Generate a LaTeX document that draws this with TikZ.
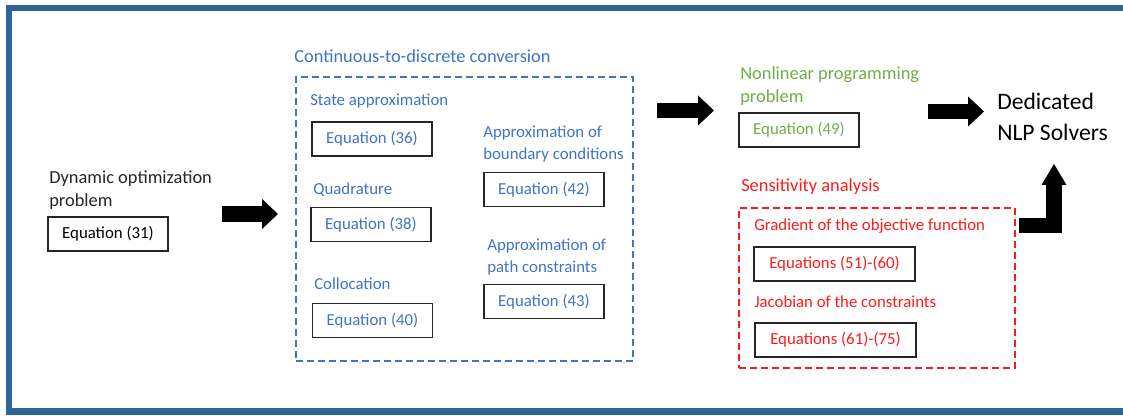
\documentclass[tikz,border=0pt]{standalone}
\usepackage{fontspec}
\setmainfont{Carlito}
\usetikzlibrary{arrows.meta}
\definecolor{frameblue}{HTML}{2E6599}
\definecolor{convblue}{HTML}{3F74C6}
\definecolor{nlpgreen}{HTML}{70AD47}
\definecolor{sensred}{HTML}{FF1A1A}
\tikzset{
    eqbox/.style={draw=black!85, line width=0.95pt, minimum width=90pt, minimum height=25.5pt, inner sep=0pt, font=\fontsize{12.6}{15}\selectfont},
    headlbl/.style={anchor=west, inner sep=0pt, align=left, font=\fontsize{13.8}{17.5}\selectfont},
    sublbl/.style={anchor=west, inner sep=0pt, align=left, font=\fontsize{12.6}{16.5}\selectfont},
    groupbox/.style={draw, line width=0.8pt, dash pattern=on 5.25pt off 3pt, inner sep=0pt},
    fatarrow/.style={line width=11.5pt, -{Triangle[length=12pt, width=22.5pt, line width=0pt]}}
}

\begin{document}
\begin{tikzpicture}[x=0.75pt, y=-0.75pt]
            \useasboundingbox (0,0) rectangle (1123,416);
            \draw[frameblue, line width=4.8pt] (9,8) rectangle (1140,411.5);
            
            % problem statement
            \node[headlbl, text=black!85] (dynlbl) at (49,190) {Dynamic optimization\\problem};
            \node[eqbox] (eq31) at (108,234) {Equation (31)};
            
            % continuous-to-discrete conversion
            \node[headlbl, text=convblue] (convlbl) at (294,56) {Continuous-to-discrete conversion};
            \node[groupbox, convblue, minimum width=252.75pt, minimum height=213pt] (conv) at (464.5,219) {};
            \node[sublbl, text=convblue] (statelbl) at (310,101) {State approximation};
            \node[eqbox, text=convblue] (eq36) at (372,139) {Equation (36)};
            \node[sublbl, text=convblue] (quadlbl) at (313,190) {Quadrature};
            \node[eqbox, text=convblue] (eq38) at (371,224.5) {Equation (38)};
            \node[sublbl, text=convblue] (colllbl) at (314,284) {Collocation};
            \node[eqbox, text=convblue] (eq40) at (372.5,320.5) {Equation (40)};
            \node[sublbl, text=convblue] (bndlbl) at (483,144) {Approximation of\\boundary conditions};
            \node[eqbox, text=convblue] (eq42) at (544,189.5) {Equation (42)};
            \node[sublbl, text=convblue] (pathlbl) at (487,257) {Approximation of\\path constraints};
            \node[eqbox, text=convblue] (eq43) at (544,301.5) {Equation (43)};
            
            % nonlinear programming problem
            \node[headlbl, text=nlpgreen] (nlplbl) at (740,86) {Nonlinear programming\\problem};
            \node[eqbox, text=nlpgreen] (eq49) at (799,130) {Equation (49)};
            
            % sensitivity analysis
            \node[headlbl, text=sensred] (senslbl) at (741,187) {Sensitivity analysis};
            \node[groupbox, sensred, minimum width=207pt, minimum height=120pt] (sens) at (877,288) {};
            \node[sublbl, text=sensred] (gradlbl) at (754,226) {Gradient of the objective function};
            \node[eqbox, text=sensred, minimum width=120.75pt] (eq51) at (834.5,264) {Equations (51)-(60)};
            \node[sublbl, text=sensred] (jaclbl) at (754,302) {Jacobian of the constraints};
            \node[eqbox, text=sensred, minimum width=120.75pt] (eq61) at (835.5,340) {Equations (61)-(75)};
            
            % solvers
            \node[anchor=west, inner sep=0pt, align=left, font=\fontsize{17.7}{23}\selectfont] (solver) at (997,117) {Dedicated\\NLP Solvers};
            
            % arrows
            \coordinate (a1s) at (222,214);
            \coordinate (a1e) at (278,214);
            \coordinate (a2s) at (657,110.5);
            \coordinate (a2e) at (714,110.5);
            \coordinate (a3s) at (928,111.5);
            \coordinate (a3e) at (984,111.5);
            \coordinate (a4s) at (1019,225.5);
            \coordinate (a4c) at (1054,225.5);
            \coordinate (a4e) at (1054,164);
            \draw[fatarrow] (a1s)--(a1e);
            \draw[fatarrow] (a2s)--(a2e);
            \draw[fatarrow] (a3s)--(a3e);
            \draw[line width=11.6pt, -{Triangle[length=15.75pt, width=18.75pt, line width=0pt]}] (a4s)--(a4c)--(a4e);
\end{tikzpicture}
\end{document}
